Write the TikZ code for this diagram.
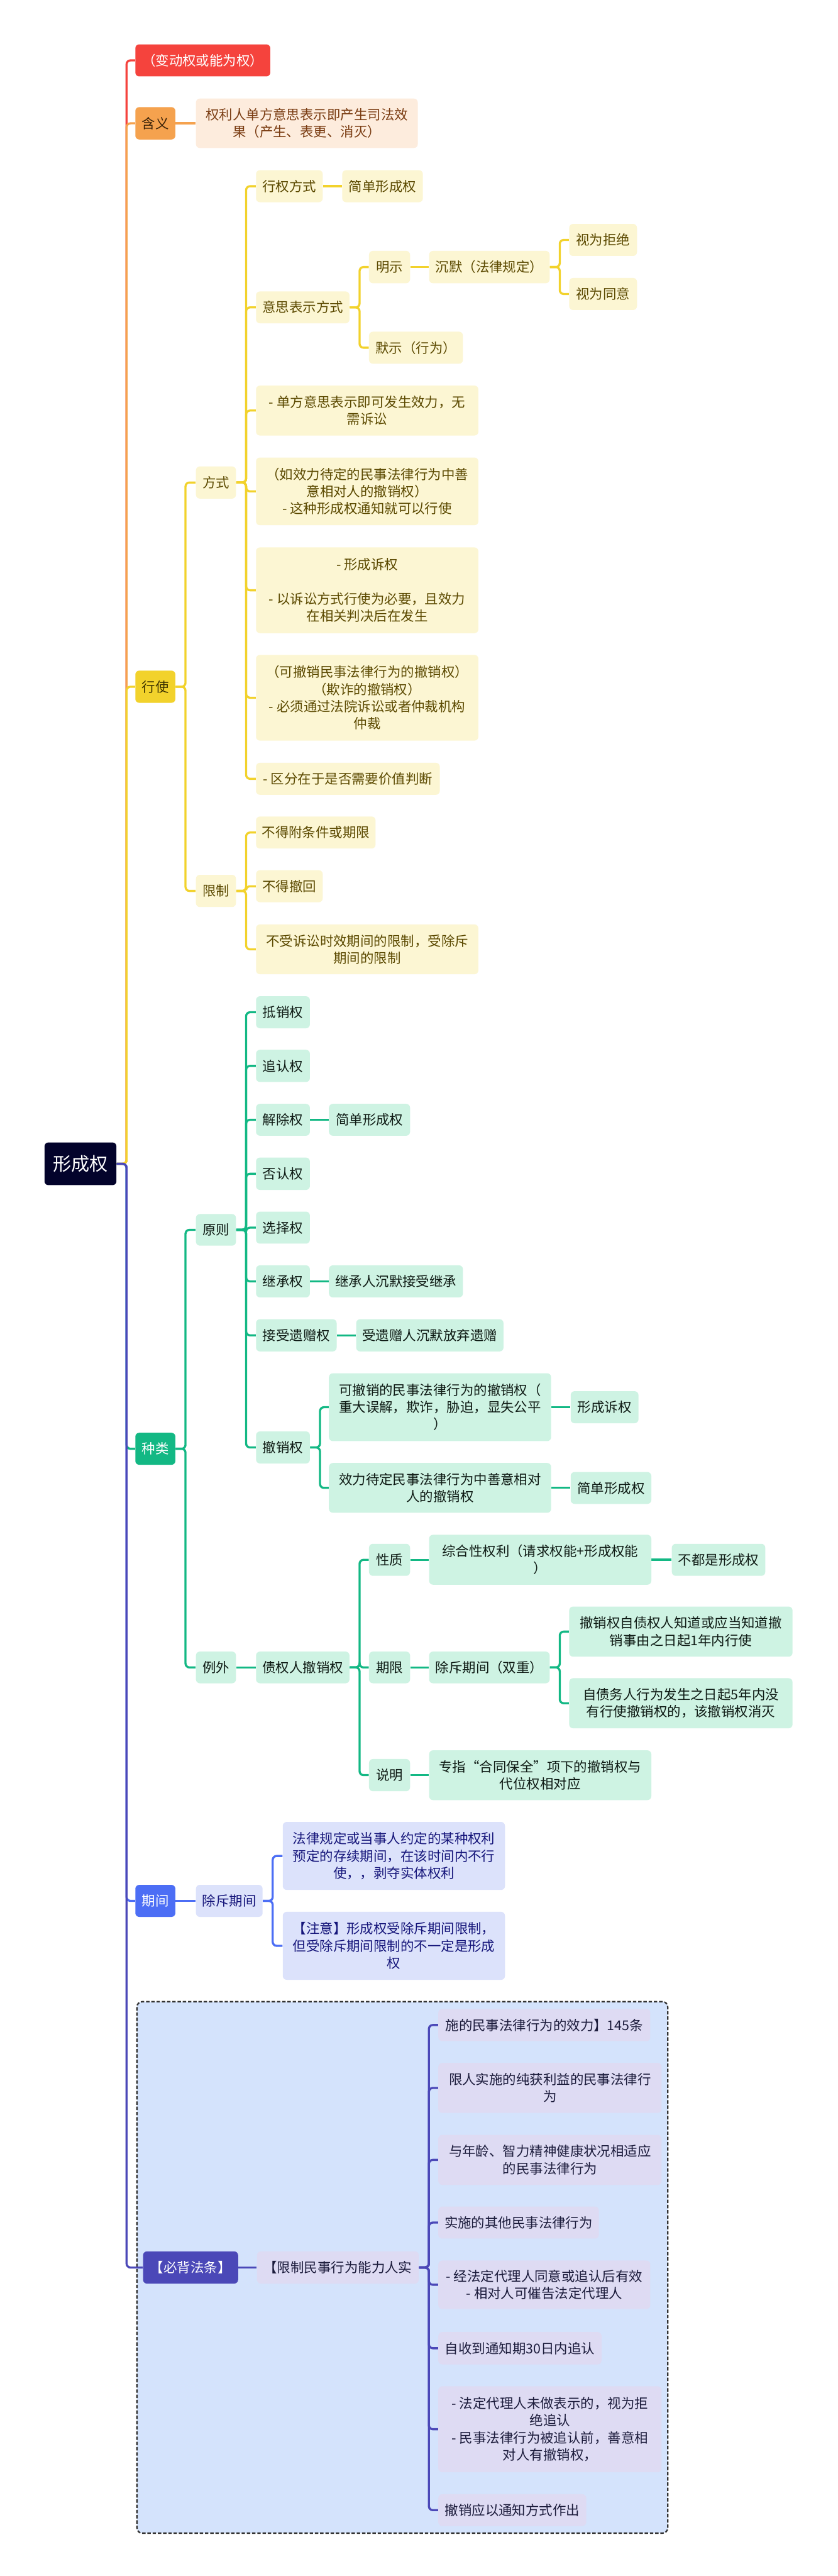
\documentclass[tikz,border=0pt]{standalone}
\usepackage{fontspec}
\newfontfamily\cjk{Noto Sans CJK SC}
\usetikzlibrary{calc}
\newdimen\U \U=1.2549pt
\definecolor{cRoot}{HTML}{03032B}
\definecolor{cRed}{HTML}{F5433D}
\definecolor{cOra}{HTML}{F5A24E}
\definecolor{cOraL}{HTML}{FDECDD}
\definecolor{cOraT}{HTML}{3A2208}
\definecolor{cOraLT}{HTML}{7A3C12}
\definecolor{cYel}{HTML}{F2D22C}
\definecolor{cYelL}{HTML}{FCF6D3}
\definecolor{cYelT}{HTML}{5B4900}
\definecolor{cYelTa}{HTML}{3A3000}
\definecolor{cGrn}{HTML}{13B884}
\definecolor{cGrnL}{HTML}{CEF3E3}
\definecolor{cGrnT}{HTML}{0E1A14}
\definecolor{cBlu}{HTML}{4C6EF5}
\definecolor{cBluL}{HTML}{DCE2FB}
\definecolor{cBluT}{HTML}{15157A}
\definecolor{cInd}{HTML}{4B48B8}
\definecolor{cIndL}{HTML}{DEDBF3}
\definecolor{cIndT}{HTML}{1C1C3C}
\definecolor{cBoxF}{HTML}{D4E3FC}
\definecolor{cDash}{HTML}{333333}
\pgfdeclarelayer{back}\pgfdeclarelayer{bg}\pgfsetlayers{back,bg,main}
\tikzset{
  nb/.style={rounded corners=3pt, inner sep=0pt, align=center, font=\cjk\fontsize{10.3}{13.1}\selectfont},
  bx/.style n args={4}{minimum width={(#3-#1)*\U}, minimum height={(#4-#2)*\U}, at={({(#1+#3)/2},{(#2+#4)/2})}},
  nRoot/.style={nb, fill=cRoot, text=white, font=\cjk\fontsize{14}{17}\selectfont},
  nRed/.style={nb, fill=cRed, text=white},
  nOra/.style={nb, fill=cOra, text=cOraT},
  nOraL/.style={nb, fill=cOraL, text=cOraLT},
  nYel/.style={nb, fill=cYel, text=cYelTa},
  nYelL/.style={nb, fill=cYelL, text=cYelT},
  nGrn/.style={nb, fill=cGrn, text=white},
  nGrnL/.style={nb, fill=cGrnL, text=cGrnT},
  nBlu/.style={nb, fill=cBlu, text=white},
  nBluL/.style={nb, fill=cBluL, text=cBluT},
  nInd/.style={nb, fill=cInd, text=white},
  nIndL/.style={nb, fill=cIndL, text=cIndT},
  ln/.style={line width=1.6pt, rounded corners=3pt},
  lR/.style={ln, draw=cRed},
  lO/.style={ln, draw=cOra},
  lY/.style={ln, draw=cYel},
  lG/.style={ln, draw=cGrn},
  lB/.style={ln, draw=cBlu},
  lI/.style={ln, draw=cInd},
  dbox/.style={draw=cDash, fill=cBoxF, line width=1.1pt, dash pattern=on 2.6pt off 1.4pt, rounded corners=4pt, inner sep=0pt}
}
\begin{document}
\begin{tikzpicture}[x=1.2549pt,y=-1.2549pt]
\useasboundingbox (0,0) rectangle (510,1568);
\begin{pgfonlayer}{back}
\fill[white] (0,0) rectangle (510,1568);
\node[dbox, bx={83.4}{1218.4}{406.6}{1541.9}] (box) {};
\end{pgfonlayer}

% root
\node[nRoot, bx={27.1}{695.4}{70.9}{721.4}] (root) {形成权};

% level 1
\node[nRed, bx={82.4}{27.0}{164.6}{46.5}] (red) {（变动权或能为权）};
\node[nOra, bx={82.4}{65.2}{106.8}{84.9}] (hy) {含义};
\node[nYel, bx={82.4}{408.2}{106.8}{427.8}] (xsh) {行使};
\node[nGrn, bx={82.4}{872.1}{106.8}{891.6}] (zl) {种类};
\node[nBlu, bx={82.4}{1147.3}{106.8}{1166.8}] (qj) {期间};
\node[nInd, bx={87.1}{1370.4}{145.0}{1390.0}] (bb) {【必背法条】};

% level 2
\node[nOraL, bx={119.3}{60.0}{254.4}{90.1}] (def) {权利人单方意思表示即产生司法效\\果（产生、表更、消灭）};
\node[nYelL, bx={119.3}{283.9}{143.7}{303.5}] (fangshi) {方式};
\node[nYelL, bx={119.3}{532.5}{143.7}{552.1}] (xianzhi) {限制};
\node[nGrnL, bx={119.3}{739.0}{143.7}{758.2}] (yz) {原则};
\node[nGrnL, bx={119.3}{1005.3}{143.7}{1024.6}] (lw) {例外};
\node[nBluL, bx={119.3}{1147.3}{159.9}{1166.8}] (cq) {除斥期间};
\node[nIndL, bx={156.5}{1370.4}{255.0}{1390.0}] (xm) {【限制民事行为能力人实};

% yellow level 3
\node[nYelL, bx={155.9}{103.6}{196.5}{123.1}] (xq) {行权方式};
\node[nYelL, bx={155.9}{177.4}{212.8}{196.8}] (ys) {意思表示方式};
\node[nYelL, bx={155.9}{234.7}{291.3}{265.1}] (dan) {- 单方意思表示即可发生效力，无\\需诉讼};
\node[nYelL, bx={155.9}{278.5}{291.3}{319.7}] (ru) {（如效力待定的民事法律行为中善\\意相对人的撤销权）\\- 这种形成权通知就可以行使};
\node[nYelL, bx={155.9}{333.2}{291.3}{385.4}] (xs) {- 形成诉权\\[13.1pt]- 以诉讼方式行使为必要，且效力\\在相关判决后在发生};
\node[nYelL, bx={155.9}{398.6}{291.3}{450.8}] (ke) {（可撤销民事法律行为的撤销权）\\（欺诈的撤销权）\\- 必须通过法院诉讼或者仲裁机构\\仲裁};
\node[nYelL, bx={155.9}{464.3}{267.8}{483.8}] (qf) {- 区分在于是否需要价值判断};
\node[nYelL, bx={155.9}{497.0}{228.7}{516.5}] (bf) {不得附条件或期限};
\node[nYelL, bx={155.9}{529.7}{196.5}{549.2}] (bc) {不得撤回};
\node[nYelL, bx={155.9}{562.7}{291.3}{593.0}] (bs) {不受诉讼时效期间的限制，受除斥\\期间的限制};
\node[nYelL, bx={208.4}{103.6}{257.5}{123.1}] (jd1) {简单形成权};
\node[nYelL, bx={224.7}{152.7}{249.7}{172.4}] (ms) {明示};
\node[nYelL, bx={224.7}{201.9}{281.9}{221.4}] (mo) {默示（行为）};
\node[nYelL, bx={261.3}{152.7}{334.7}{172.4}] (cm) {沉默（法律规定）};
\node[nYelL, bx={346.6}{136.3}{387.9}{155.8}] (sj) {视为拒绝};
\node[nYelL, bx={346.6}{169.2}{387.9}{188.7}] (st) {视为同意};

% green
\node[nGrnL, bx={155.9}{606.4}{188.7}{625.9}] (dx) {抵销权};
\node[nGrnL, bx={155.9}{639.0}{188.7}{658.6}] (zr) {追认权};
\node[nGrnL, bx={155.9}{671.9}{188.7}{691.3}] (jc) {解除权};
\node[nGrnL, bx={155.9}{704.6}{188.7}{724.3}] (fr) {否认权};
\node[nGrnL, bx={155.9}{737.5}{188.7}{757.0}] (xz) {选择权};
\node[nGrnL, bx={155.9}{770.2}{188.7}{789.7}] (jx) {继承权};
\node[nGrnL, bx={155.9}{803.0}{205.0}{822.6}] (jy) {接受遗赠权};
\node[nGrnL, bx={155.9}{871.3}{188.7}{890.8}] (cx) {撤销权};
\node[nGrnL, bx={155.9}{1005.3}{212.8}{1024.6}] (zq) {债权人撤销权};
\node[nGrnL, bx={200.3}{671.9}{249.7}{691.3}] (jd2) {简单形成权};
\node[nGrnL, bx={200.3}{770.2}{281.9}{789.7}] (jxr) {继承人沉默接受继承};
\node[nGrnL, bx={216.9}{803.0}{306.6}{822.6}] (syz) {受遗赠人沉默放弃遗赠};
\node[nGrnL, bx={200.3}{835.9}{335.6}{877.2}] (kc) {可撤销的民事法律行为的撤销权（\\重大误解，欺诈，胁迫，显失公平\\）};
\node[nGrnL, bx={200.3}{890.5}{335.6}{920.8}] (xd) {效力待定民事法律行为中善意相对\\人的撤销权};
\node[nGrnL, bx={347.5}{846.8}{388.8}{866.3}] (xss) {形成诉权};
\node[nGrnL, bx={347.5}{896.0}{396.6}{915.4}] (jd3) {简单形成权};
\node[nGrnL, bx={224.7}{939.7}{249.7}{959.2}] (xzh) {性质};
\node[nGrnL, bx={224.7}{1005.3}{249.7}{1024.6}] (qx) {期限};
\node[nGrnL, bx={224.7}{1070.7}{249.7}{1090.3}] (sm) {说明};
\node[nGrnL, bx={261.3}{934.2}{396.6}{964.6}] (zh) {综合性权利（请求权能+形成权能\\）};
\node[nGrnL, bx={409.1}{939.7}{466.0}{959.2}] (bd) {不都是形成权};
\node[nGrnL, bx={261.3}{1005.3}{334.7}{1024.6}] (cc) {除斥期间（双重）};
\node[nGrnL, bx={346.6}{977.9}{482.6}{1008.4}] (c1) {撤销权自债权人知道或应当知道撤\\销事由之日起1年内行使};
\node[nGrnL, bx={346.6}{1021.5}{482.6}{1052.0}] (c2) {自债务人行为发生之日起5年内没\\有行使撤销权的，该撤销权消灭};
\node[nGrnL, bx={261.3}{1065.4}{396.6}{1095.7}] (zz) {专指“合同保全”项下的撤销权与\\代位权相对应};

% blue
\node[nBluL, bx={172.2}{1109.0}{307.5}{1150.4}] (fl) {法律规定或当事人约定的某种权利\\预定的存续期间，在该时间内不行\\使，，剥夺实体权利};
\node[nBluL, bx={172.2}{1163.7}{307.5}{1205.1}] (zy) {【注意】形成权受除斥期间限制，\\但受除斥期间限制的不一定是形成\\权};

% indigo
\node[nIndL, bx={266.9}{1222.8}{396.0}{1242.4}] (a1) {施的民事法律行为的效力】145条};
\node[nIndL, bx={266.9}{1255.7}{402.9}{1286.1}] (a2) {限人实施的纯获利益的民事法律行\\为};
\node[nIndL, bx={266.9}{1299.5}{402.9}{1329.9}] (a3) {与年龄、智力精神健康状况相适应\\的民事法律行为};
\node[nIndL, bx={266.9}{1343.1}{364.7}{1362.6}] (a4) {实施的其他民事法律行为};
\node[nIndL, bx={266.9}{1376.0}{396.0}{1405.4}] (a5) {- 经法定代理人同意或追认后有效\\- 相对人可催告法定代理人};
\node[nIndL, bx={266.9}{1419.5}{366.3}{1439.2}] (a6) {自收到通知期30日内追认};
\node[nIndL, bx={266.9}{1452.5}{402.9}{1504.8}] (a7) {- 法定代理人未做表示的，视为拒\\绝追认\\- 民事法律行为被追认前，善意相\\对人有撤销权，};
\node[nIndL, bx={266.9}{1518.2}{357.0}{1537.6}] (a8) {撤销应以通知方式作出};

\begin{pgfonlayer}{bg}
% root connectors
\draw[lR] (root.east) -- ++(6,0) |- (red.west);
\draw[lO] (root.east) -- ++(6,0) |- (hy.west);
\draw[lY] (root.east) -- ++(6,0) |- (xsh.west);
\draw[lG] (root.east) -- ++(6,0) |- (zl.west);
\draw[lB] (root.east) -- ++(6,0) |- (qj.west);
\draw[lI] (root.east) -- ++(6,0) |- (bb.west);
% orange
\draw[lO] (hy.east) -- (hy.east -| def.west);
% yellow
\foreach \c in {fangshi,xianzhi} \draw[lY] (xsh.east) -- ++(6,0) |- (\c.west);
\foreach \c in {xq,ys,dan,ru,xs,ke,qf} \draw[lY] (fangshi.east) -- ++(6,0) |- (\c.west);
\foreach \c in {bf,bc,bs} \draw[lY] (xianzhi.east) -- ++(6,0) |- (\c.west);
\draw[lY] (xq.east) -- (xq.east -| jd1.west);
\foreach \c in {ms,mo} \draw[lY] (ys.east) -- ++(6,0) |- (\c.west);
\draw[lY] (ms.east) -- (ms.east -| cm.west);
\foreach \c in {sj,st} \draw[lY] (cm.east) -- ++(6,0) |- (\c.west);
% green
\foreach \c in {yz,lw} \draw[lG] (zl.east) -- ++(6,0) |- (\c.west);
\foreach \c in {dx,zr,jc,fr,xz,jx,jy,cx} \draw[lG] (yz.east) -- ++(6,0) |- (\c.west);
\draw[lG] (jc.east) -- (jc.east -| jd2.west);
\draw[lG] (jx.east) -- (jx.east -| jxr.west);
\draw[lG] (jy.east) -- (jy.east -| syz.west);
\foreach \c in {kc,xd} \draw[lG] (cx.east) -- ++(6,0) |- (\c.west);
\draw[lG] (kc.east) -- (kc.east -| xss.west);
\draw[lG] (xd.east) -- (xd.east -| jd3.west);
\draw[lG] (lw.east) -- (lw.east -| zq.west);
\foreach \c in {xzh,qx,sm} \draw[lG] (zq.east) -- ++(6,0) |- (\c.west);
\draw[lG] (xzh.east) -- (xzh.east -| zh.west);
\draw[lG] (zh.east) -- (zh.east -| bd.west);
\draw[lG] (qx.east) -- (qx.east -| cc.west);
\foreach \c in {c1,c2} \draw[lG] (cc.east) -- ++(6,0) |- (\c.west);
\draw[lG] (sm.east) -- (sm.east -| zz.west);
% blue
\draw[lB] (qj.east) -- (qj.east -| cq.west);
\foreach \c in {fl,zy} \draw[lB] (cq.east) -- ++(6,0) |- (\c.west);
% indigo
\draw[lI] (bb.east) -- (bb.east -| xm.west);
\foreach \c in {a1,a2,a3,a4,a5,a6,a7,a8} \draw[lI] (xm.east) -- ++(6,0) |- (\c.west);
\end{pgfonlayer}
\end{tikzpicture}
\end{document}
